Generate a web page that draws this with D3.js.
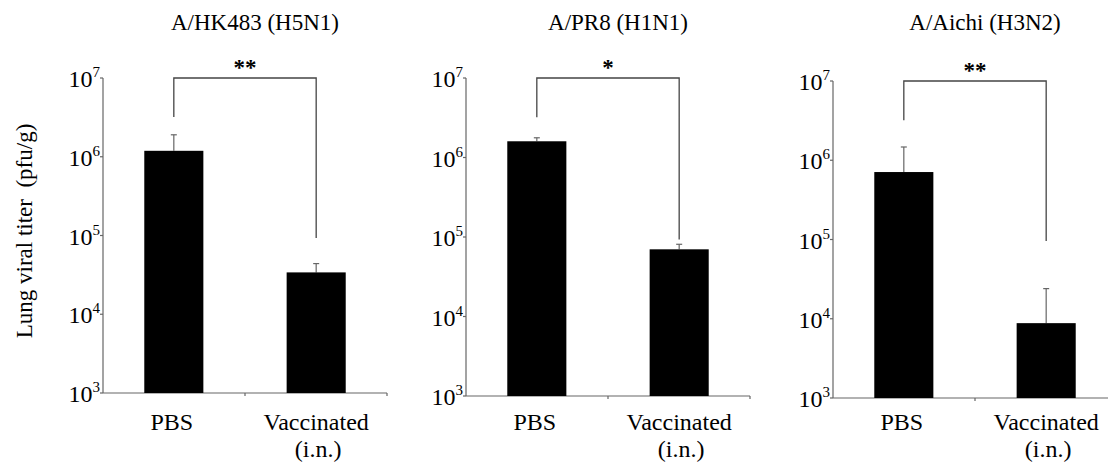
<!DOCTYPE html>
<html>
<head>
<meta charset="utf-8">
<script src="https://cdn.jsdelivr.net/npm/d3@7"></script>
<style>
  body { margin: 0; background: #fff; }
  svg text { font-family: "Liberation Serif", "Times New Roman", serif; fill: #000; }
</style>
</head>
<body>
<svg id="chart" width="1108" height="463"></svg>
<script>
// Data
var panels = ["A/HK483 (H5N1)", "A/PR8 (H1N1)", "A/Aichi (H3N2)"];
var groups = ["PBS", "Vaccinated"];
var means = [[1.19e6, 3.4e4], [1.6e6, 7.0e4], [7.1e5, 8.8e3]];
var upper = [[1.9e6, 4.4e4], [1.77e6, 8.1e4], [1.47e6, 2.4e4]];
var stars = ["**", "*", "**"];
// bracket leg ends (left, right) in axis units
var bracketEnds = [[3.2e6, 9.3e4], [3.2e6, 9.3e4], [3.2e6, 9.6e4]];
var tickExps = [3, 4, 5, 6, 7];

// Panel placement
var layout = [
  { x0: 103, top: 78, bottom: 393 },
  { x0: 466, top: 78, bottom: 396 },
  { x0: 833, top: 81, bottom: 398 }
];
var panelW = 284;
var axisColor = "#666";

var svg = d3.select("#chart");

panels.forEach(function(title, p) {
  var L = layout[p];
  var g = svg.append("g").attr("transform", "translate(" + L.x0 + ",0)");

  var x = d3.scaleBand().domain(groups).range([0, panelW]).paddingInner(0.585).paddingOuter(0.29);
  var xb = d3.scaleBand().domain(groups).range([0, panelW]);
  var y = d3.scaleLog().domain([1e3, 1e7]).range([L.bottom, L.top]);

  // title
  g.append("text")
    .attr("x", panelW / 2 + 10)
    .attr("y", 30)
    .attr("text-anchor", "middle")
    .style("font-size", "23px")
    .text(title);

  // y axis
  g.append("line")
    .attr("x1", 0).attr("x2", 0)
    .attr("y1", y(1e7)).attr("y2", y(1e3))
    .attr("stroke", axisColor).attr("stroke-width", 1.2);

  var ticks = g.selectAll(".ytick").data(tickExps).enter().append("g")
    .attr("class", "ytick")
    .attr("transform", function(d) { return "translate(0," + y(Math.pow(10, d)) + ")"; });
  ticks.append("line").attr("x1", -3).attr("x2", 0).attr("stroke", axisColor).attr("stroke-width", 1.2);
  var tl = ticks.append("text")
    .attr("x", -3)
    .attr("y", 9)
    .attr("text-anchor", "end")
    .style("font-size", "24px");
  tl.append("tspan").text("10");
  tl.append("tspan").attr("dy", -10).style("font-size", "15px").text(function(d) { return d; });

  // x axis with category boundary ticks
  g.append("line")
    .attr("x1", 0).attr("x2", panelW)
    .attr("y1", y(1e3)).attr("y2", y(1e3))
    .attr("stroke", axisColor).attr("stroke-width", 1.2);
  g.selectAll(".xtick").data(groups).enter().append("line")
    .attr("x1", function(d) { return xb(d) + xb.bandwidth(); })
    .attr("x2", function(d) { return xb(d) + xb.bandwidth(); })
    .attr("y1", y(1e3)).attr("y2", y(1e3) + 3)
    .attr("stroke", axisColor).attr("stroke-width", 1.2);

  // error bars (upper only)
  var eb = g.selectAll(".err").data(groups).enter().append("g").attr("class", "err");
  eb.append("line")
    .attr("x1", function(d) { return x(d) + x.bandwidth() / 2; })
    .attr("x2", function(d) { return x(d) + x.bandwidth() / 2; })
    .attr("y1", function(d, i) { return y(means[p][i]); })
    .attr("y2", function(d, i) { return y(upper[p][i]); })
    .attr("stroke", axisColor).attr("stroke-width", 1.2);
  eb.append("line")
    .attr("x1", function(d) { return x(d) + x.bandwidth() / 2 - 3; })
    .attr("x2", function(d) { return x(d) + x.bandwidth() / 2 + 3; })
    .attr("y1", function(d, i) { return y(upper[p][i]); })
    .attr("y2", function(d, i) { return y(upper[p][i]); })
    .attr("stroke", axisColor).attr("stroke-width", 1.2);

  // bars
  g.selectAll(".bar").data(groups).enter().append("rect")
    .attr("class", "bar")
    .attr("x", function(d) { return x(d); })
    .attr("width", x.bandwidth())
    .attr("y", function(d, i) { return y(means[p][i]); })
    .attr("height", function(d, i) { return y(1e3) - y(means[p][i]); })
    .attr("fill", "#000");

  // category labels
  var cx = function(d) { return x(d) + x.bandwidth() / 2; };
  g.append("text").attr("x", cx("PBS") - 2).attr("y", 430).attr("text-anchor", "middle")
    .style("font-size", "24px").text("PBS");
  g.append("text").attr("x", cx("Vaccinated")).attr("y", 430).attr("text-anchor", "middle")
    .style("font-size", "24px").text("Vaccinated");
  g.append("text").attr("x", cx("Vaccinated") + 2).attr("y", 457).attr("text-anchor", "middle")
    .style("font-size", "24px").text("(i.n.)");

  // significance bracket
  var bl = cx("PBS"), br = cx("Vaccinated");
  g.append("path")
    .attr("d", "M" + bl + "," + y(bracketEnds[p][0]) + "V" + y(1e7) + "H" + br + "V" + y(bracketEnds[p][1]))
    .attr("fill", "none").attr("stroke", "#444").attr("stroke-width", 1.3);
  g.append("text")
    .attr("x", (bl + br) / 2)
    .attr("y", y(1e7) - 3)
    .attr("text-anchor", "middle")
    .style("font-size", "23px").style("font-weight", "bold")
    .text(stars[p]);
});

// shared y axis label
svg.append("text")
  .attr("transform", "translate(32,231) rotate(-90)")
  .attr("text-anchor", "middle")
  .style("font-size", "23px")
  .style("white-space", "pre")
  .text("Lung viral titer  (pfu/g)");
</script>
</body>
</html>
